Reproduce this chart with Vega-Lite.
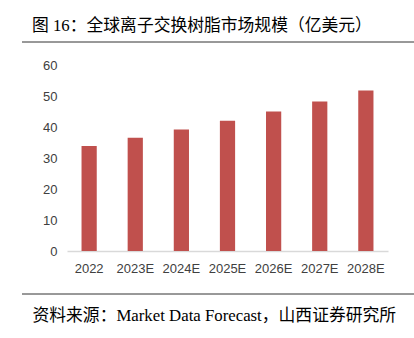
{
  "$schema": "https://vega.github.io/schema/vega-lite/v6.json",
  "width": 321,
  "height": 186,
  "autosize": "none",
  "padding": {"left": 67, "top": 65, "right": 26, "bottom": 87},
  "background": "white",
  "config": {"view": {"stroke": null}},
  "title": {
    "text": "图 16：全球离子交换树脂市场规模（亿美元）",
    "font": "Liberation Serif, Noto Sans CJK SC",
    "fontSize": 16.8,
    "fontWeight": "normal",
    "color": "#000000",
    "anchor": "start",
    "frame": "group",
    "dx": -35,
    "offset": 7
  },
  "data": {
    "values": [
      {"year": "2022", "value": 33.9},
      {"year": "2023E", "value": 36.5},
      {"year": "2024E", "value": 39.2},
      {"year": "2025E", "value": 42.0},
      {"year": "2026E", "value": 45.0},
      {"year": "2027E", "value": 48.2},
      {"year": "2028E", "value": 51.8}
    ]
  },
  "layer": [
    {
      "mark": {"type": "bar", "color": "#c0504d"},
      "encoding": {
        "x": {
          "field": "year",
          "type": "nominal",
          "sort": null,
          "scale": {"paddingInner": 0.67, "paddingOuter": 0.315},
          "axis": {
            "title": "资料来源：Market Data Forecast，山西证券研究所",
            "titleFont": "Liberation Serif, Noto Sans CJK SC",
            "titleFontSize": 16.8,
            "titleFontWeight": "normal",
            "titleColor": "#000000",
            "titleAnchor": "start",
            "titleAlign": "left",
            "titleX": -35,
            "titleY": 64,
            "titleBaseline": "middle",
            "labelAngle": 0,
            "labelFont": "Liberation Sans, Arial",
            "labelFontSize": 13,
            "labelColor": "#404040",
            "labelPadding": 11,
            "ticks": false,
            "domainColor": "#d9d9d9",
            "domainWidth": 1.5
          }
        },
        "y": {
          "field": "value",
          "type": "quantitative",
          "scale": {"domain": [0, 60]},
          "axis": {
            "title": null,
            "values": [0, 10, 20, 30, 40, 50, 60],
            "grid": false,
            "domain": false,
            "ticks": false,
            "labelFont": "Liberation Sans, Arial",
            "labelFontSize": 13,
            "labelColor": "#404040",
            "labelPadding": 10
          }
        }
      }
    },
    {
      "data": {"values": [{"line": "top"}]},
      "mark": {"type": "rule", "color": "#333333", "strokeWidth": 1},
      "encoding": {
        "x": {"value": -45},
        "x2": {"value": 347},
        "y": {"value": -23}
      }
    },
    {
      "data": {"values": [{"line": "bottom"}]},
      "mark": {"type": "rule", "color": "#333333", "strokeWidth": 1},
      "encoding": {
        "x": {"value": -45},
        "x2": {"value": 347},
        "y": {"value": 229}
      }
    }
  ]
}
